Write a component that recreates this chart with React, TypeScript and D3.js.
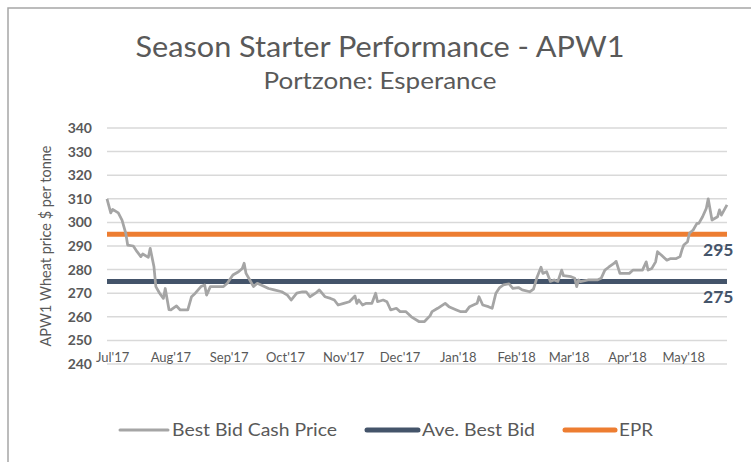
import React from "react";
import * as d3 from "d3";

const TITLE = "Season Starter Performance - APW1";
const SUBTITLE = "Portzone: Esperance";
const Y_TITLE = "APW1 Wheat price $ per tonne";

const yTicks = [240, 250, 260, 270, 280, 290, 300, 310, 320, 330, 340];
const monthTicks = [
  "2017-07-01", "2017-08-01", "2017-09-01", "2017-10-01", "2017-11-01", "2017-12-01",
  "2018-01-01", "2018-02-01", "2018-03-01", "2018-04-01", "2018-05-01",
];
const monthLabels = ["Jul'17", "Aug'17", "Sep'17", "Oct'17", "Nov'17", "Dec'17", "Jan'18", "Feb'18", "Mar'18", "Apr'18", "May'18"];

const bidDates = [
  "2017-06-28", "2017-06-30", "2017-07-01", "2017-07-04", "2017-07-06", "2017-07-08", "2017-07-09", "2017-07-12",
  "2017-07-14", "2017-07-16", "2017-07-17", "2017-07-20", "2017-07-21", "2017-07-23", "2017-07-24", "2017-07-26",
  "2017-07-28", "2017-07-29", "2017-07-31", "2017-08-01", "2017-08-04", "2017-08-06", "2017-08-10", "2017-08-12",
  "2017-08-14", "2017-08-17", "2017-08-19", "2017-08-20", "2017-08-22", "2017-08-29", "2017-08-31", "2017-09-03",
  "2017-09-06", "2017-09-08", "2017-09-09", "2017-09-10", "2017-09-12", "2017-09-14", "2017-09-16", "2017-09-18",
  "2017-09-22", "2017-09-25", "2017-09-29", "2017-10-02", "2017-10-04", "2017-10-07", "2017-10-10", "2017-10-12",
  "2017-10-14", "2017-10-17", "2017-10-19", "2017-10-22", "2017-10-25", "2017-10-27", "2017-10-29", "2017-11-01",
  "2017-11-04", "2017-11-07", "2017-11-08", "2017-11-09", "2017-11-11", "2017-11-13", "2017-11-16", "2017-11-18",
  "2017-11-19", "2017-11-22", "2017-11-24", "2017-11-26", "2017-11-29", "2017-12-01", "2017-12-04", "2017-12-07",
  "2017-12-11", "2017-12-14", "2017-12-17", "2017-12-18", "2017-12-21", "2017-12-25", "2017-12-27", "2017-12-31",
  "2018-01-02", "2018-01-05", "2018-01-07", "2018-01-11", "2018-01-12", "2018-01-14", "2018-01-17", "2018-01-19",
  "2018-01-21", "2018-01-23", "2018-01-25", "2018-01-28", "2018-01-30", "2018-02-02", "2018-02-04", "2018-02-08",
  "2018-02-10", "2018-02-12", "2018-02-14", "2018-02-15", "2018-02-17", "2018-02-19", "2018-02-21", "2018-02-23",
  "2018-02-25", "2018-02-26", "2018-03-02", "2018-03-04", "2018-03-05", "2018-03-06", "2018-03-07", "2018-03-11",
  "2018-03-16", "2018-03-18", "2018-03-20", "2018-03-22", "2018-03-25", "2018-03-26", "2018-03-28", "2018-04-02",
  "2018-04-04", "2018-04-09", "2018-04-11", "2018-04-12", "2018-04-14", "2018-04-16", "2018-04-17", "2018-04-19",
  "2018-04-22", "2018-04-24", "2018-04-27", "2018-04-29", "2018-04-30", "2018-05-01", "2018-05-03", "2018-05-04",
  "2018-05-06", "2018-05-08", "2018-05-09", "2018-05-11", "2018-05-13", "2018-05-14", "2018-05-16", "2018-05-19",
  "2018-05-20", "2018-05-21", "2018-05-24",
];
const bidValues = [
  310, 304, 305.5, 304, 301, 295.4, 290.4, 290,
  287.6, 285.5, 286.6, 285.2, 289, 281.2, 272.8, 270,
  267.8, 272, 263, 262.9, 264.6, 262.9, 262.9, 268.5,
  270, 272.8, 273.5, 269.2, 272.8, 272.8, 274.2, 277.7,
  279.1, 280.5, 282.7, 278.4, 275.6, 272.8, 274.2, 273.5,
  272, 271.4, 270.6, 269.2, 267.1, 270, 270.6, 270.6,
  268.5, 270, 271.4, 268.5, 267.8, 267.1, 265, 265.7,
  266.4, 268.8, 265.7, 267.1, 265, 265.7, 265.7, 270,
  266.4, 267.1, 266.4, 262.9, 263.6, 262.2, 262.2, 260,
  258, 258, 260.5, 262.2, 263.6, 265.7, 264.3, 262.9,
  262.2, 262.2, 264.3, 265.7, 268.5, 265, 264.3, 263.6,
  270, 272.4, 273.5, 274, 272, 272.4, 271.4, 270.6,
  271.7, 277, 281, 278.4, 279.1, 275, 275.6, 275,
  279.8, 277.4, 277, 276.3, 272.8, 275.6, 274.9, 275.6,
  275.6, 276.3, 279.8, 281, 282.7, 283.5, 278.4, 278.4,
  279.8, 279.8, 283.3, 279.8, 280.5, 283.3, 287.6, 286.2,
  284, 284.7, 284.7, 285.5, 288.3, 290.4, 291.8, 295.4,
  296.8, 299.6, 299.6, 302.4, 306, 310, 301, 302.4,
  305.3, 303.1, 307.4,
];
const aveBestBid = 275;
const epr = 295;
const legendLabels = ["Best Bid Cash Price", "Ave. Best Bid", "EPR"];

const W = 751;
const H = 462;
const FONT = "Lato, 'Open Sans', sans-serif";
const TEXT = "#595959";
const GREY = "#a5a5a5";
const NAVY = "#44546a";
const ORANGE = "#ed7d31";

export default function App() {
  const parse = d3.timeParse("%Y-%m-%d");
  const dates = bidDates.map((d) => parse(d) as Date);
  const x = d3.scaleTime().domain([dates[0], dates[dates.length - 1]]).range([107, 727]);
  const y = d3.scaleLinear().domain([240, 340]).range([364, 128]);
  const data = dates.map((d, i) => ({ d, v: bidValues[i] }));
  const line = d3
    .line<{ d: Date; v: number }>()
    .x((p) => x(p.d))
    .y((p) => y(p.v));
  const [x0, x1] = x.range();

  const legendItems = [
    { label: legendLabels[0], color: GREY, w: 3, x1: 120, x2: 168, tw: 165 },
    { label: legendLabels[1], color: NAVY, w: 5, x1: 367, x2: 418, tw: 113 },
    { label: legendLabels[2], color: ORANGE, w: 5, x1: 565, x2: 615, tw: 34 },
  ];

  return (
    <svg
      width={W}
      height={H}
      style={{ position: "absolute", left: 0, top: 0, background: "#fff" }}
      fontFamily={FONT}
    >
      <rect x={8} y={8} width={W + 20} height={H + 20} fill="#fff" stroke="#a6a6a6" strokeWidth={1.5} />
      <text x={380} y={57} textAnchor="middle" fontSize={28} fill={TEXT} fontWeight={400}
        textLength={489} lengthAdjust="spacingAndGlyphs">
        {TITLE}
      </text>
      <text x={380} y={89} textAnchor="middle" fontSize={23} fill={TEXT} fontWeight={400}
        textLength={233} lengthAdjust="spacingAndGlyphs">
        {SUBTITLE}
      </text>
      {yTicks.map((t) => (
        <g key={t}>
          <line x1={x0} x2={x1} y1={y(t)} y2={y(t)} stroke="#d9d9d9" strokeWidth={1.5} />
          <text x={92} y={y(t)} dy="0.35em" textAnchor="end" fontSize={14} fontWeight={700} fill={TEXT}>
            {t}
          </text>
        </g>
      ))}
      <text
        transform={`translate(51,246) rotate(-90)`}
        textAnchor="middle"
        fontSize={14.5}
        fill={TEXT}
      >
        {Y_TITLE}
      </text>
      {monthTicks.map((m, i) => (
        <text key={m} x={x(parse(m) as Date)} y={362} textAnchor="middle" fontSize={13} fill={TEXT}>
          {monthLabels[i]}
        </text>
      ))}
      <line x1={x0} x2={x1} y1={y(epr)} y2={y(epr)} stroke={ORANGE} strokeWidth={5} />
      <line x1={x0} x2={x1} y1={y(aveBestBid)} y2={y(aveBestBid)} stroke={NAVY} strokeWidth={5} />
      <path d={line(data) || ""} fill="none" stroke={GREY} strokeWidth={2.75} strokeLinejoin="round" />
      <text x={703} y={y(epr) + 22} fontSize={17.5} fontWeight={700} fill={NAVY}>
        {epr}
      </text>
      <text x={703} y={y(aveBestBid) + 22} fontSize={17.5} fontWeight={700} fill={NAVY}>
        {aveBestBid}
      </text>
      {legendItems.map((it) => (
        <g key={it.label}>
          <line x1={it.x1} x2={it.x2} y1={430} y2={430} stroke={it.color} strokeWidth={it.w} strokeLinecap="round" />
          <text x={it.x2 + 4} y={430} dy="0.35em" fontSize={18} fill={TEXT}
            textLength={it.tw} lengthAdjust="spacingAndGlyphs">
            {it.label}
          </text>
        </g>
      ))}
    </svg>
  );
}
